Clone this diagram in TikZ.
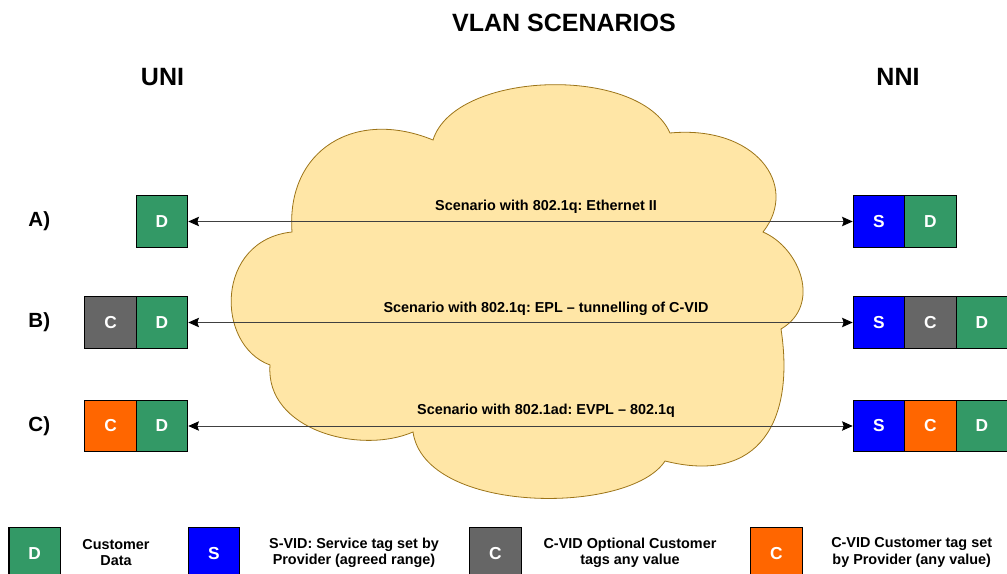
\documentclass[tikz,border=0pt]{standalone}
\usepackage{fontspec}
\setmainfont{Liberation Sans}
\frenchspacing
\usetikzlibrary{arrows.meta,calc,positioning}
\definecolor{tagGreen}{HTML}{339966}
\definecolor{tagBlue}{HTML}{0000FF}
\definecolor{tagGrey}{HTML}{666666}
\definecolor{tagOrange}{HTML}{FF6600}
\definecolor{cloudFill}{HTML}{FFE6A6}
\definecolor{cloudEdge}{HTML}{9C7418}
\tikzset{cloudnode/.style={fill=cloudFill,draw=cloudEdge,line width=0.6pt},
link/.style={{Stealth[length=8pt,width=7pt,inset=1.2pt,color=black]}-{Stealth[length=8pt,width=7pt,inset=1.2pt,color=black]},draw=black!75,line width=0.75pt}}

\begin{document}
\begin{tikzpicture}[x=0.75pt,y=-0.75pt,node distance=38.6pt,font=\bfseries]

\tikzset{tagnode/.style={draw=black,line width=0.8pt,minimum width=38.6pt,minimum height=38.4pt,inner sep=0pt,text=white,font=\fontsize{13}{15}\selectfont\bfseries},
greennode/.style={tagnode,fill=tagGreen},
bluenode/.style={tagnode,fill=tagBlue},
greynode/.style={tagnode,fill=tagGrey},
orangenode/.style={tagnode,fill=tagOrange},
headnode/.style={font=\fontsize{18.75}{22}\selectfont\bfseries},
rownode/.style={font=\fontsize{15.4}{18}\selectfont\bfseries},
scenario/.style={font=\fontsize{10.8}{13}\selectfont\bfseries},
keytext/.style={align=center,font=\fontsize{10.8}{12.5}\selectfont\bfseries}}

\useasboundingbox (0,0) rectangle (1007,574);

% Cloud
\draw[cloudnode] (292,232) .. controls (286,150) and (355,108) .. (433,140)
  .. controls (455,70) and (640,65) .. (670,133)
  .. controls (755,125) and (800,185) .. (763,232)
  .. controls (800,248) and (822,305) .. (781,329)
  .. controls (795,420) and (760,485) .. (665,461)
  .. controls (630,515) and (425,515) .. (413,432)
  .. controls (360,455) and (265,430) .. (270,365)
  .. controls (215,345) and (215,240) .. cycle;

% Headings
\node[headnode] (title) at (564,23) {VLAN SCENARIOS};
\node[headnode] (uni) at (162.5,77) {UNI};
\node[headnode] (nni) at (898,77) {NNI};

% Row labels
\foreach \r/\t/\y in {a/A/221.5, b/B/322.5, c/C/426} \node[rownode] (l\r) at (39.3,\y) {\t)};

% UNI frames
\node[greennode] (ua) at (162,221.5) {D};
\node[greennode] (ub) at (162,322.5) {D};
\node (ubc) [greynode,left of=ub] {C};
\node[greennode] (uc) at (162,426) {D};
\node (ucc) [orangenode,left of=uc] {C};

% NNI frames
\node[bluenode] (na) at (879,221.5) {S};
\node (nad) [greennode,right of=na] {D};
\node[bluenode] (nb) at (879,322.5) {S};
\node (nbc) [greynode,right of=nb] {C};
\node (nbd) [greennode,right of=nbc] {D};
\node[bluenode] (nc) at (879,426) {S};
\node (ncc) [orangenode,right of=nc] {C};
\node (ncd) [greennode,right of=ncc] {D};

% Scenario edges
\foreach \r in {a,b,c} \draw[link] (u\r.east) -- (n\r.west);
\node[scenario] (sa) at (546,207) {Scenario with 802.1q: Ethernet II};
\node[scenario] (sb) at (546,309) {Scenario with 802.1q: EPL -- tunnelling of C-VID};
\node[scenario] (sc) at (546,411) {Scenario with 802.1ad: EVPL -- 802.1q};

% Legend
\node[greennode] (kd) at (34.7,553.5) {D};
\node[keytext] (kdt) at (116,552.7) {Customer\\Data};
\node[bluenode] (ks) at (214,553.5) {S};
\node[keytext] (kst) at (354,552.7) {S-VID: Service tag set by\\Provider (agreed range)};
\node[greynode] (kc) at (495.5,553.5) {C};
\node[keytext] (kct) at (630,552.7) {C-VID Optional Customer\\tags any value};
\node[orangenode] (ko) at (776.5,553.5) {C};
\node[keytext] (kot) at (911.7,552.7) {C-VID Customer tag set\\by Provider (any value)};

\end{tikzpicture}
\end{document}
